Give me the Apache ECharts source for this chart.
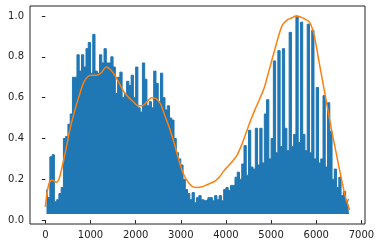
<!DOCTYPE html>
<html>
<head>
<meta charset="utf-8">
<script src="https://cdn.jsdelivr.net/npm/echarts@6/dist/echarts.min.js"></script>
<style>
  html, body { margin: 0; padding: 0; background: #fff; }
  #chart { width: 382px; height: 248px; }
</style>
</head>
<body>
<div id="chart"></div>
<script>
// signal (blue): highest value reached in each 50-unit slice, filled down to the floor
const peakStep = 50;
const floorValue = 0.03;
const peaks = [
  0.15, 0.11, 0.31, 0.32, 0.09, 0.10, 0.13, 0.16, 0.40, 0.41,
  0.47, 0.52, 0.70, 0.70, 0.81, 0.73, 0.81, 0.75, 0.84, 0.87,
  0.72, 0.91, 0.73, 0.72, 0.81, 0.77, 0.84, 0.77, 0.77, 0.80,
  0.75, 0.62, 0.70, 0.725, 0.60, 0.62, 0.68, 0.66, 0.71, 0.60,
  0.75, 0.55, 0.53, 0.77, 0.69, 0.56, 0.58, 0.55, 0.73, 0.67,
  0.58, 0.72, 0.60, 0.54, 0.56, 0.50, 0.49, 0.40, 0.33, 0.30,
  0.27, 0.20, 0.15, 0.13, 0.10, 0.135, 0.085, 0.11, 0.12, 0.10,
  0.095, 0.10, 0.11, 0.11, 0.095, 0.12, 0.10, 0.12, 0.095, 0.15,
  0.16, 0.145, 0.17, 0.17, 0.21, 0.235, 0.20, 0.275, 0.365, 0.22,
  0.44, 0.26, 0.25, 0.45, 0.27, 0.45, 0.28, 0.52, 0.59, 0.30,
  0.40, 0.78, 0.33, 0.83, 0.36, 0.84, 0.45, 0.34, 0.92, 0.36,
  0.42, 1.0, 0.38, 0.97, 0.42, 0.34, 0.96, 0.33, 0.93, 0.30,
  0.65, 0.28, 0.30, 0.61, 0.26, 0.575, 0.435, 0.20, 0.25, 0.16,
  0.21, 0.12, 0.14, 0.09, 0.10
];

// smooth envelope (orange)
const envX = [
  0, 50, 100, 150, 200, 250, 300, 350, 450, 550,
  650, 750, 850, 950, 1050, 1150, 1250, 1350, 1450, 1550,
  1650, 1750, 1850, 1950, 2050, 2150, 2250, 2350, 2450, 2550,
  2650, 2750, 2850, 2950, 3050, 3150, 3250, 3350, 3450, 3550,
  3650, 3750, 3850, 3950, 4050, 4150, 4250, 4350, 4450, 4550,
  4650, 4750, 4850, 4950, 5050, 5150, 5250, 5350, 5450, 5550,
  5650, 5750, 5850, 5950, 6050, 6150, 6250, 6350, 6450, 6550,
  6650, 6740
];
const envY = [
  0.065, 0.15, 0.19, 0.195, 0.19, 0.185, 0.20, 0.24, 0.34, 0.45,
  0.535, 0.61, 0.675, 0.705, 0.71, 0.71, 0.725, 0.75, 0.735, 0.705,
  0.665, 0.625, 0.60, 0.58, 0.56, 0.56, 0.58, 0.60, 0.595, 0.57,
  0.51, 0.45, 0.38, 0.30, 0.23, 0.19, 0.165, 0.16, 0.162, 0.17,
  0.18, 0.19, 0.21, 0.24, 0.265, 0.29, 0.32, 0.37, 0.43, 0.49,
  0.545, 0.595, 0.65, 0.73, 0.81, 0.89, 0.955, 0.98, 0.99, 1.0,
  0.995, 0.985, 0.97, 0.91, 0.79, 0.67, 0.55, 0.43, 0.32, 0.21,
  0.11, 0.05
];

const xTicks = [0, 1000, 2000, 3000, 4000, 5000, 6000, 7000];
const yTicks = [0, 0.2, 0.4, 0.6, 0.8, 1.0];

const signal = peaks.map(function (p, i) { return [i * peakStep + peakStep / 2, p]; });
const envelope = envX.map(function (x, i) { return [x, envY[i]]; });

const labelStyle = { fontFamily: 'DejaVu Sans', fontSize: 10, color: '#222' };

let myChart = echarts.init(document.getElementById('chart'));
myChart.setOption({
  animation: false,
  grid: {
    left: 30, right: 17, top: 6, bottom: 24,
    show: true, borderColor: '#222', borderWidth: 1, backgroundColor: '#fff'
  },
  xAxis: {
    type: 'value', min: -340, max: 7080,
    axisLine: { show: false },
    splitLine: { show: false },
    axisTick: { show: true, inside: false, length: 3.5, customValues: xTicks, lineStyle: { color: '#222' } },
    axisLabel: Object.assign({ margin: 6, customValues: xTicks, formatter: function (v) { return String(v); } }, labelStyle)
  },
  yAxis: {
    type: 'value', min: -0.019, max: 1.049,
    axisLine: { show: false },
    splitLine: { show: false },
    axisTick: { show: true, inside: false, length: 3.5, customValues: yTicks, lineStyle: { color: '#222' } },
    axisLabel: Object.assign({ margin: 6, customValues: yTicks, formatter: function (v) { return v.toFixed(1); } }, labelStyle)
  },
  series: [
    {
      type: 'line', data: signal, step: 'middle', showSymbol: false, silent: true,
      lineStyle: { color: '#1f77b4', width: 1 },
      areaStyle: { color: '#1f77b4', opacity: 1, origin: floorValue }
    },
    {
      type: 'line', data: envelope, showSymbol: false, silent: true, smooth: 0.3,
      lineStyle: { color: '#ff7f0e', width: 1.5 }
    }
  ]
});
</script>
</body>
</html>
